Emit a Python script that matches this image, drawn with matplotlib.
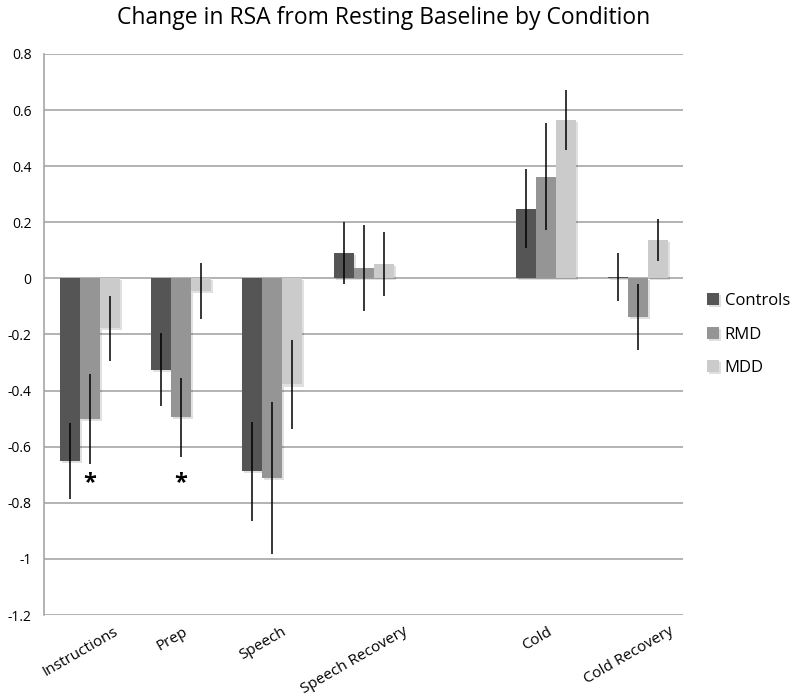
import numpy as np
import matplotlib
matplotlib.use("Agg")
import matplotlib.pyplot as plt
import matplotlib.patheffects as pe
from matplotlib.transforms import ScaledTranslation

plt.rcParams['font.family'] = ['Open Sans', 'DejaVu Sans']

title = "Change in RSA from Resting Baseline by Condition"
categories = ["Instructions", "Prep", "Speech", "Speech Recovery", "", "Cold", "Cold Recovery"]
series = ["Controls", "RMD", "MDD"]
colors = ["#555555", "#959595", "#cbcbcb"]

controls = [-0.65, -0.325, -0.688, 0.09, np.nan, 0.249, 0.005]
rmd      = [-0.50, -0.495, -0.712, 0.038, np.nan, 0.363, -0.138]
mdd      = [-0.178, -0.045, -0.378, 0.05, np.nan, 0.564, 0.138]

controls_err = [0.135, 0.13, 0.177, 0.11, np.nan, 0.14, 0.087]
rmd_err      = [0.16, 0.14, 0.27, 0.153, np.nan, 0.19, 0.119]
mdd_err      = [0.115, 0.10, 0.16, 0.114, np.nan, 0.108, 0.075]

star_categories = ["Instructions", "Prep"]
star_y = -0.73

yticks = [0.8, 0.6, 0.4, 0.2, 0, -0.2, -0.4, -0.6, -0.8, -1, -1.2]

values = [controls, rmd, mdd]
errors = [controls_err, rmd_err, mdd_err]

fig = plt.figure(figsize=(8, 6.97), dpi=100)
ax = fig.add_axes([0.055, 0.1176, 0.799, 0.805])

x = np.arange(len(categories))
width = 0.219
for i, (name, vals, errs, c) in enumerate(zip(series, values, errors, colors)):
    pos = x + (i - 1) * width
    bars = ax.bar(pos, vals, width, color=c, label=name, zorder=3, linewidth=0)
    for b in bars:
        b.set_path_effects([pe.SimplePatchShadow(offset=(1.5, -1.5), shadow_rgbFace='#000000', alpha=0.12), pe.Normal()])
    ax.errorbar(pos, vals, yerr=errs, fmt='none', ecolor='black', elinewidth=1.1, capsize=0, zorder=4)

for cat in star_categories:
    ax.text(categories.index(cat), star_y, "*", ha='center', va='center', fontsize=17, fontweight='bold', zorder=5)

ax.set_xlim(-0.5, len(categories) - 0.5)
ax.set_ylim(-1.2, 0.8)
ax.set_yticks(yticks)
ax.set_yticklabels([f"{v:g}" for v in yticks], fontsize=10)
ax.set_xticks(x)
ax.set_xticklabels([])
offset = ScaledTranslation(-9 / 100, -9 / 100, fig.dpi_scale_trans)
for xi, cat in zip(x, categories):
    ax.text(xi, 0, cat, transform=ax.get_xaxis_transform() + offset, rotation=30,
            ha='center', va='top', fontsize=11)
ax.tick_params(axis='both', length=0)
ax.tick_params(axis='y', pad=9)

ax.yaxis.grid(True, color='#a6a6a6', linewidth=1.2, zorder=0)
ax.set_axisbelow(True)
for s in ['top', 'right', 'bottom']:
    ax.spines[s].set_visible(False)
ax.spines['left'].set_color('#a6a6a6')
ax.spines['left'].set_linewidth(1.2)

fig.text(0.479, 1 - 18 / 697, title, ha='center', va='center', fontsize=16.5)

fig.legend(loc='center left', bbox_to_anchor=(0.884, 0.52), frameon=False, fontsize=12,
           handlelength=0.7, handleheight=0.7, handletextpad=0.35, labelspacing=1.05,
           borderaxespad=0, borderpad=0)

fig.savefig("out.png", dpi=100)
